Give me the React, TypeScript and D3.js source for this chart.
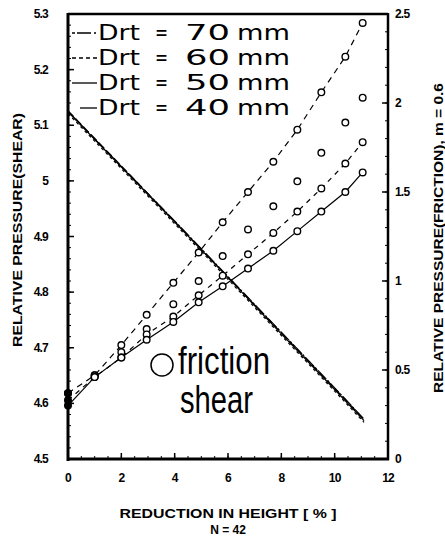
import React from "react";
import * as d3 from "d3";

// reduction in height [%] where friction was measured
const frictionX = [0, 1, 2, 2.95, 3.95, 4.9, 5.8, 6.75, 7.7, 8.6, 9.5, 10.4, 11.05];
// relative pressure (friction), one array per tool diameter
const friction70 = [0.37, 0.47, 0.64, 0.81, 0.99, 1.16, 1.33, 1.5, 1.67, 1.85, 2.06, 2.26, 2.45];
const friction60 = [0.37, 0.47, 0.6, 0.73, 0.87, 1.0, 1.14, 1.29, 1.42, 1.56, 1.72, 1.89, 2.03];
const friction50 = [0.33, 0.46, 0.57, 0.7, 0.8, 0.92, 1.03, 1.15, 1.27, 1.39, 1.52, 1.66, 1.78];
const friction40 = [0.3, 0.46, 0.57, 0.67, 0.77, 0.88, 0.97, 1.07, 1.17, 1.28, 1.39, 1.5, 1.61];

const shearX = [0, 2, 4, 6, 8, 10, 11.1];
const shear70 = [5.124, 5.025, 4.926, 4.826, 4.725, 4.625, 4.569];
const shear60 = [5.126, 5.027, 4.927, 4.827, 4.727, 4.627, 4.571];
const shear50 = [5.121, 5.022, 4.923, 4.823, 4.722, 4.622, 4.566];
const shear40 = [5.125, 5.026, 4.928, 4.828, 4.728, 4.628, 4.572];

const legendLabels = ["70", "60", "50", "40"];
const xTicks = [0, 2, 4, 6, 8, 10, 12];
const leftTicks = [4.5, 4.6, 4.7, 4.8, 4.9, 5, 5.1, 5.2, 5.3];
const rightTicks = [0, 0.5, 1, 1.5, 2, 2.5];

const W = 445;
const H = 539;
const tickFont = "'Liberation Sans', Arial, sans-serif";

export default class App extends React.Component {
    render() {
        const x = d3.scaleLinear().domain([0, 12]).range([68, 388]);
        const yL = d3.scaleLinear().domain([4.5, 5.3]).range([459, 14]);
        const yR = d3.scaleLinear().domain([0, 2.5]).range([459, 14]);

        const frictionLine = d3.line<number>()
            .x((d, i) => x(frictionX[i]))
            .y((d) => yR(d));
        const shearLine = d3.line<number>()
            .x((d, i) => x(shearX[i]))
            .y((d) => yL(d));

        // dash: null means the series has markers only
        const frictionSeries = [
            { values: friction70, dash: "6,5" },
            { values: friction60, dash: null },
            { values: friction50, dash: "5,5" },
            { values: friction40, dash: "" }
        ];
        const shearSeries = [
            { values: shear70, dash: "" },
            { values: shear60, dash: "8,3" },
            { values: shear50, dash: "3,3" },
            { values: shear40, dash: "12,2,2,2" }
        ];

        const leftMinor = d3.range(4.5, 5.3001, 0.02);
        const rightMinor = d3.range(0, 2.5001, 0.1);
        const bottomMinor = d3.range(0, 12.001, 0.5);

        const legendDash = ["3,2,14", "4,3", "", ""];
        const legendStart = [72, 72, 72, 80];

        return (
            <svg width={W} height={H} style={{ position: "absolute", left: 0, top: 0, background: "#fff" }}
                 fontFamily={tickFont}>
                {/* shear lines, nearly on top of each other */}
                {shearSeries.map((s, i) => (
                    <path key={"sh" + i} d={shearLine(s.values)} fill="none" stroke="#000"
                          strokeWidth={1.2} strokeDasharray={s.dash || undefined} />
                ))}

                {frictionSeries.map((s, i) => s.dash === null ? null : (
                    <path key={"fl" + i} d={frictionLine(s.values)} fill="none" stroke="#000"
                          strokeWidth={1.2} strokeDasharray={s.dash || undefined} />
                ))}
                {frictionSeries.map((s, i) => s.values.map((v, j) => (
                    <circle key={"fp" + i + "-" + j} cx={x(frictionX[j])} cy={yR(v)} r={3.3}
                            fill={j === 0 ? "#000" : "#fff"} stroke="#000" strokeWidth={1.4} />
                )))}

                {/* frame */}
                <line x1={68} x2={388} y1={14} y2={14} stroke="#000" strokeWidth={2.5} />
                <line x1={388} x2={388} y1={13} y2={460} stroke="#000" strokeWidth={2.5} />
                <line x1={68} x2={68} y1={13} y2={461} stroke="#000" strokeWidth={3} />
                <line x1={67} x2={389} y1={459} y2={459} stroke="#000" strokeWidth={3} />

                {leftMinor.map((t, i) => (
                    <line key={"lm" + i} x1={68} x2={71} y1={yL(t)} y2={yL(t)} stroke="#000" strokeWidth={1} />
                ))}
                {leftTicks.map((t) => (
                    <g key={"lt" + t}>
                        <line x1={68} x2={74} y1={yL(t)} y2={yL(t)} stroke="#000" strokeWidth={1.5} />
                        <text x={48} y={yL(t) + 4} textAnchor="end" fontSize={12} fontWeight="bold"
                              letterSpacing={-0.8}>{t}</text>
                    </g>
                ))}
                {rightMinor.map((t, i) => (
                    <line key={"rm" + i} x1={385} x2={388} y1={yR(t)} y2={yR(t)} stroke="#000" strokeWidth={1} />
                ))}
                {rightTicks.map((t) => (
                    <g key={"rt" + t}>
                        <line x1={382} x2={388} y1={yR(t)} y2={yR(t)} stroke="#000" strokeWidth={1.5} />
                        <text x={395} y={yR(t) + 4} fontSize={12} fontWeight="bold"
                              letterSpacing={-0.8}>{t}</text>
                    </g>
                ))}
                {bottomMinor.map((t, i) => (
                    <line key={"bm" + i} x1={x(t)} x2={x(t)} y1={456} y2={459} stroke="#000" strokeWidth={1} />
                ))}
                {xTicks.map((t) => (
                    <g key={"bt" + t}>
                        <line x1={x(t)} x2={x(t)} y1={453} y2={459} stroke="#000" strokeWidth={1.5} />
                        <text x={x(t)} y={482} textAnchor="middle" fontSize={12} fontWeight="bold"
                              letterSpacing={-0.8}>{t}</text>
                    </g>
                ))}

                {/* axis titles */}
                <text x={228} y={518} textAnchor="middle" fontSize={12} fontWeight="bold"
                      textLength={217} lengthAdjust="spacingAndGlyphs">REDUCTION IN HEIGHT [ % ]</text>
                <text x={228} y={534} textAnchor="middle" fontSize={12} fontWeight="bold">N = 42</text>
                <text transform="translate(22,230) rotate(-90)" textAnchor="middle" fontSize={12}
                      fontWeight="bold" textLength={234} lengthAdjust="spacingAndGlyphs">RELATIVE PRESSURE(SHEAR)</text>
                <text transform="translate(443,238) rotate(-90)" textAnchor="middle" fontSize={12}
                      fontWeight="bold" textLength={310} lengthAdjust="spacingAndGlyphs">RELATIVE PRESSURE(FRICTION), m = 0.6</text>

                {/* legend */}
                {legendLabels.map((lab, i) => {
                    const base = 40 + i * 25;
                    return (
                        <g key={"lg" + i} fontFamily="'DejaVu Sans', sans-serif" fontSize={21}>
                            <line x1={legendStart[i]} x2={97} y1={base - 7} y2={base - 7} stroke="#000"
                                  strokeWidth={1.3} strokeDasharray={legendDash[i] || undefined} />
                            <text x={98} y={base} textLength={42} lengthAdjust="spacingAndGlyphs">Drt</text>
                            <text x={155} y={base} textLength={13} lengthAdjust="spacingAndGlyphs">=</text>
                            <text x={185} y={base} textLength={45} lengthAdjust="spacingAndGlyphs">{lab}</text>
                            <text x={237} y={base} textLength={53} lengthAdjust="spacingAndGlyphs">mm</text>
                        </g>
                    );
                })}

                {/* marker key */}
                <circle cx={162} cy={365} r={11} fill="none" stroke="#000" strokeWidth={1.5} />
                <text x={178} y={374} fontSize={38} textLength={92} lengthAdjust="spacingAndGlyphs">friction</text>
                <text x={180} y={413} fontSize={38} textLength={73} lengthAdjust="spacingAndGlyphs">shear</text>
            </svg>
        );
    }
}
